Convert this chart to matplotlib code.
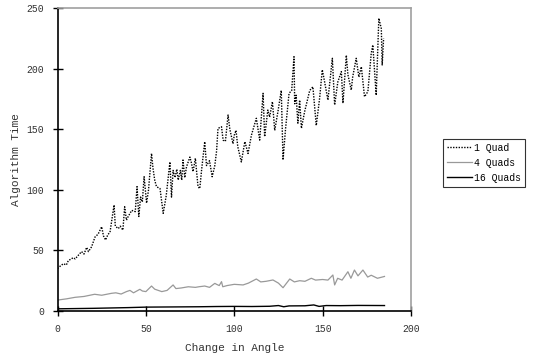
import numpy as np
import matplotlib
matplotlib.use('Agg')
import matplotlib.pyplot as plt

plt.rcParams['font.family'] = ['Liberation Mono', 'DejaVu Sans Mono']

# 1 Quad (dotted)
x_quad1 = [0, 1.5, 3.3, 5, 6.1, 8.9, 10, 11.8, 13.6, 15, 16.5, 17.5, 19.3, 21.2, 23,
           25, 26, 27.2, 28.5, 29.7, 32, 32.7, 34.4, 35.5, 37, 38, 39, 40, 42, 44,
           45, 46, 47, 48, 49, 50.4, 51.5, 53.2, 54, 55, 56, 58, 59.8, 61.5, 63.6,
           64.5, 65.4, 66.5, 67.5, 68.3, 69.5, 70.3, 71, 72, 73, 74.9, 75.8, 76.7, 78, 79.5,
           80.5, 81.5, 83.3, 84.3, 86, 87.5, 89, 90, 90.8, 92.8, 93.7, 95, 96.5, 97.5,
           99.3, 100, 101, 102, 104, 106, 107.8, 109.7, 112.5, 114.4, 116.3, 117.2, 119,
           120, 121.6, 122.9, 124.7, 126.6, 127.6, 129, 131, 132.5, 133.8, 134.2, 135,
           136, 137, 138, 139.8, 142.7, 144.5, 146.4, 148.3, 149.8, 151, 153, 155.5,
           156.8, 158.6, 160.6, 161.5, 163.4, 164.3, 166.2, 167, 169, 170.5, 171.9,
           173.7, 175.6, 177.5, 178.4, 180.3, 181.8, 183.2, 183.7, 184.5]
y_quad1 = [35, 37, 39, 38, 41.5, 44, 43, 46, 49, 47, 52.5, 49, 53, 61, 63.5,
           69.5, 62, 58.6, 63, 65, 87.5, 70, 68, 70, 66.8, 86, 75, 78, 83, 82,
           102.6, 78, 94, 90, 110.8, 89, 100, 130, 118, 108, 102.6, 101, 80.6, 95, 123,
           94, 116, 110, 117, 108, 116, 108, 124.6, 110, 119, 127, 122, 115, 126, 102.6,
           101, 116, 139.7, 120, 124, 110.8, 120, 132, 150.7, 152, 141, 140, 161.7, 150,
           138, 145, 149, 135.5, 123, 139.7, 130, 145, 159, 141, 179.6, 143.8, 165.8,
           160, 172.7, 149, 164.4, 182, 124.6, 150, 179.6, 182, 209.8, 171, 178,
           155, 174, 150.7, 164.4, 182, 185, 153, 175.5, 199, 190, 174, 208.5,
           170, 189, 197.5, 171.4, 211, 195, 182.3, 193, 208.5, 193, 201.5,
           176.8, 181, 212.6, 219.5, 178, 241.5, 233, 203, 225]

# 4 Quads (gray)
x_quad4 = [0, 5, 10, 15, 21, 25, 30.6, 33, 36, 39, 41, 43, 46.6, 48, 50, 53.2, 55, 57,
           59, 62, 65.4, 67, 70, 74, 78, 80, 83.3, 86, 89, 90, 91.5, 92.8, 93.5, 96,
           100, 105, 108, 112.5, 115, 118, 121.9, 125, 127.6, 131.4, 134, 137, 140,
           143.6, 146, 150, 153, 155.8, 156.8, 158.5, 161, 164.3, 166, 168, 170, 172.8,
           175.5, 177.5, 181, 185]
y_quad4 = [9, 10, 11.3, 12, 13.8, 13, 14.6, 15, 14, 16, 17, 15, 17.9, 16.5, 16, 20.6, 18, 17,
           16, 17, 21.5, 18.5, 19, 20, 19.5, 20, 20.6, 19.5, 22.8, 22, 21, 24.2, 20, 21,
           22, 21.5, 23, 26.4, 24, 24.5, 25.6, 23, 19.2, 26.4, 24, 25, 24.5,
           27, 25.5, 26, 25.5, 29.7, 21.5, 27, 25.5, 32.4, 27, 33.8, 29, 33.8,
           28, 29.5, 27, 28.5]

# 16 Quads (black)
x_quad16 = [0, 10, 20, 30, 40, 50, 60, 70, 80, 90, 100, 110, 120, 125, 128, 131,
            140, 145, 148, 152, 160, 170, 185]
y_quad16 = [1.8, 2, 2.2, 2.5, 2.8, 3.2, 3.3, 3.4, 3.5, 3.7, 3.8, 3.7, 3.9, 4.5, 3.5, 4.2,
            4.3, 5, 3.8, 4.5, 4.4, 4.6, 4.5]

x_ticks = [0, 50, 100, 150, 200]
y_ticks = [0, 50, 100, 150, 200, 250]

fig = plt.figure(figsize=(5.4, 3.6), dpi=100)
ax = fig.add_axes([57.5 / 540, 49 / 360, 353.5 / 540, 303 / 360])

l1, = ax.plot(x_quad1, y_quad1, color='black', lw=1.0, linestyle=(0, (1, 1)), label='1 Quad')
l4, = ax.plot(x_quad4, y_quad4, color='#999999', lw=0.9, label='4 Quads')
l16, = ax.plot(x_quad16, y_quad16, color='black', lw=1.0, label='16 Quads')

ax.set_xlim(0, 200)
ax.set_ylim(0, 250)
ax.set_xticks(x_ticks)
ax.set_yticks(y_ticks)
ax.tick_params(direction='inout', length=7, width=1, labelsize=7, labelcolor='#333333', pad=6)

for side in ['left', 'bottom']:
    ax.spines[side].set_color('black')
    ax.spines[side].set_linewidth(1.2)
for side in ['top', 'right']:
    ax.spines[side].set_color('#a0a0a0')
    ax.spines[side].set_linewidth(1.2)

ax.set_xlabel('Change in Angle', fontsize=8, color='#333333', labelpad=6)
ax.set_ylabel('Algorithm Time', fontsize=8, color='#333333', labelpad=4)

leg = fig.legend(handles=[l1, l4, l16], loc='upper left', bbox_to_anchor=(443 / 540, 221 / 360),
                 fontsize=7, frameon=True, fancybox=False, edgecolor='black',
                 handlelength=2.6, handletextpad=0.2, borderpad=0.4, labelspacing=0.5,
                 borderaxespad=0)
leg.get_frame().set_linewidth(0.8)

fig.savefig('out.png', dpi=100)
